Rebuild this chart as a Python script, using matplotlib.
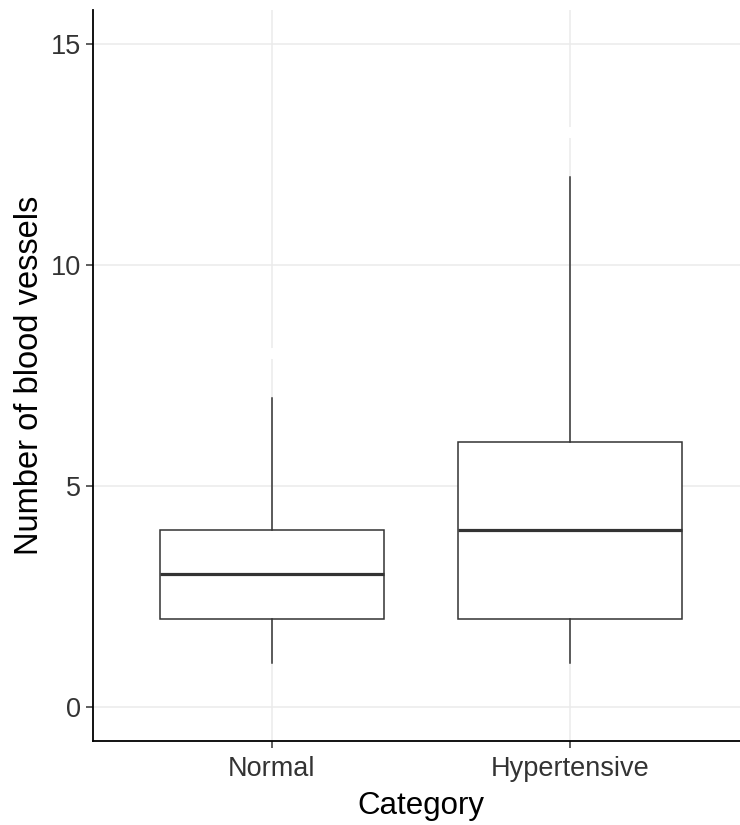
import matplotlib as mpl
import matplotlib.pyplot as plt

mpl.rcParams['font.family'] = ['Liberation Sans', 'DejaVu Sans']

categories = ['Normal', 'Hypertensive']
whisker_low = [1, 1]
q1 = [2, 2]
medians = [3, 4]
q3 = [4, 6]
whisker_high = [7, 12]
outliers = [[8], [13]]

stats = []
for i in range(len(categories)):
    stats.append({'label': categories[i], 'whislo': whisker_low[i], 'q1': q1[i],
                  'med': medians[i], 'q3': q3[i], 'whishi': whisker_high[i],
                  'fliers': outliers[i]})

fig = plt.figure(figsize=(7.4, 8.25), dpi=100)
ax = fig.add_axes([93 / 740, (825 - 741) / 825, (749 - 93) / 740, (741 - 10) / 825])

ax.set_axisbelow(True)
ax.grid(True, color='#ebebeb', linewidth=1.1)

ax.bxp(stats, positions=[1, 2], widths=0.75, patch_artist=True,
       boxprops=dict(facecolor='white', edgecolor='#333333', linewidth=1.1),
       whiskerprops=dict(color='#333333', linewidth=1.1),
       capprops=dict(linewidth=0),
       medianprops=dict(color='#333333', linewidth=2.3),
       flierprops=dict(marker='o', markersize=7, markerfacecolor='white',
                       markeredgecolor='white'),
       showcaps=False)

ax.set_xlim(0.4, 2.6)
ax.set_ylim(-0.77, 15.77)
ax.set_yticks([0, 5, 10, 15])
ax.set_xticks([1, 2])
ax.set_xticklabels(categories)

for s in ['top', 'right']:
    ax.spines[s].set_visible(False)
for s in ['left', 'bottom']:
    ax.spines[s].set_color('black')
    ax.spines[s].set_linewidth(1.3)

ax.tick_params(axis='both', colors='#333333', length=5, width=1.1, labelsize=19.5,
               labelcolor='#333333')
ax.tick_params(axis='x', pad=6)
ax.set_xlabel('Category', fontsize=22.5, color='black', labelpad=6)
ax.set_ylabel('Number of blood vessels', fontsize=23.5, color='black', labelpad=4)

plt.savefig('out.png', dpi=100)
